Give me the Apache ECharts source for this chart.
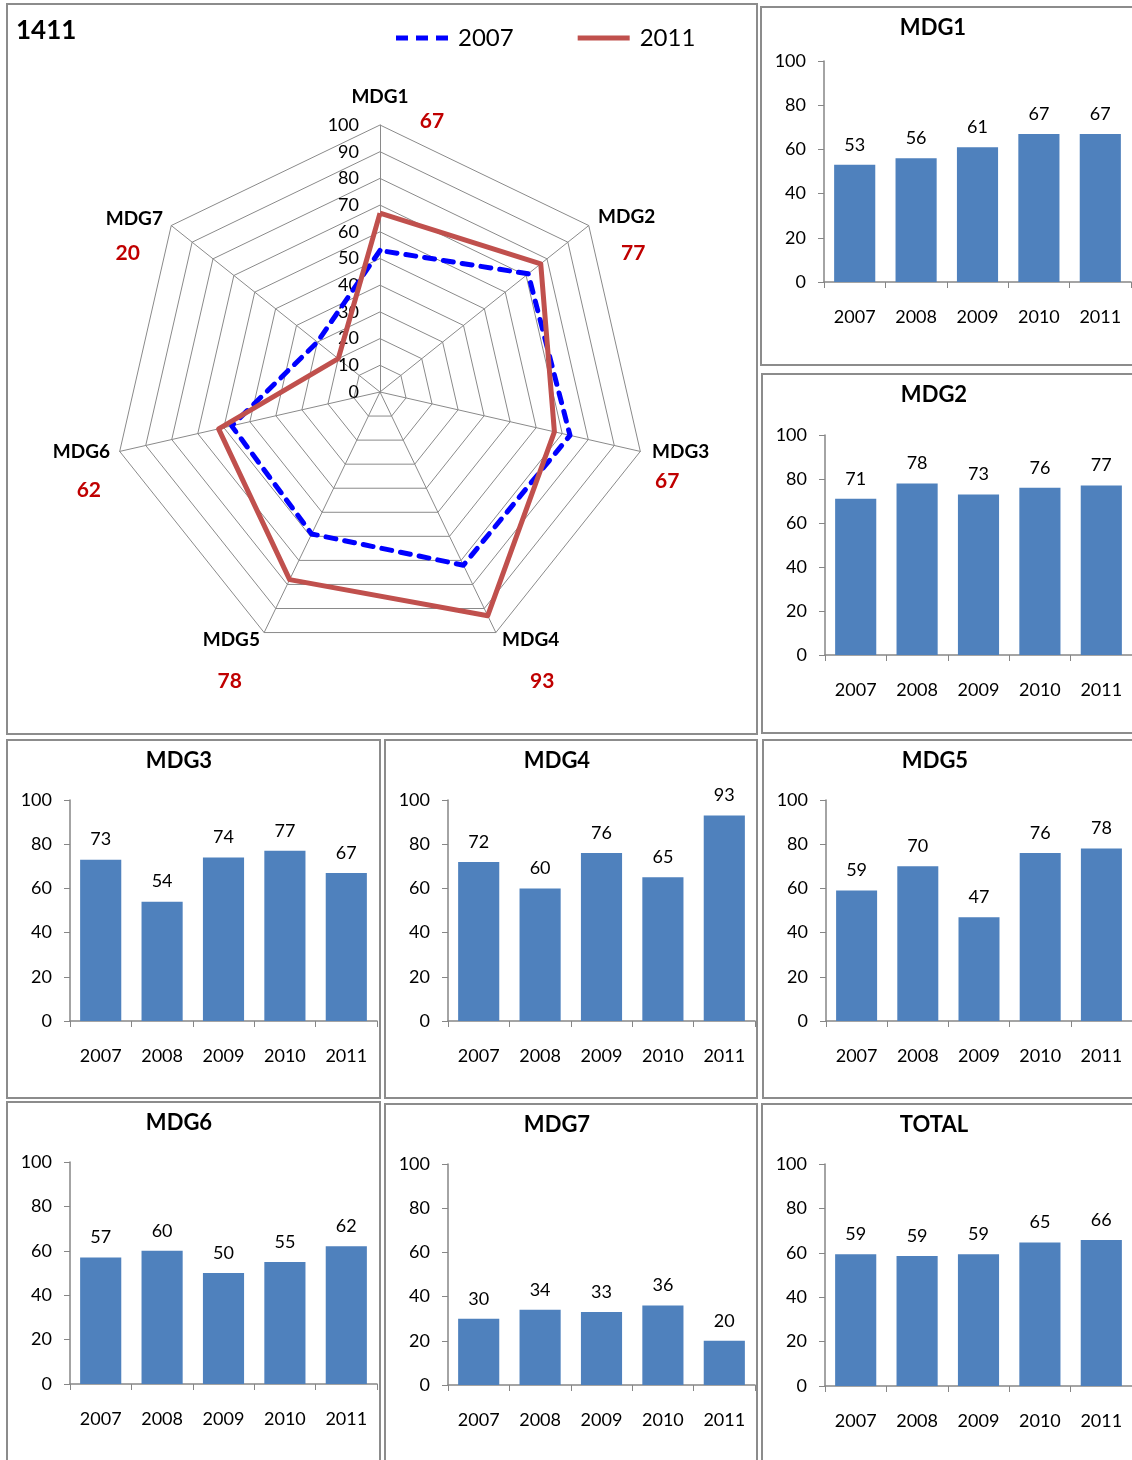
<!DOCTYPE html>
<html>
<head>
<meta charset="utf-8">
<script src="https://cdn.jsdelivr.net/npm/echarts@6/dist/echarts.min.js"></script>
<style>
html,body{margin:0;padding:0;background:#fff;overflow:hidden;}
#c{width:1132px;height:1460px;}
</style>
</head>
<body>
<div id="c"></div>
<script>
// ---------- DATA ----------
const chartTitle = '1411';
const years = ['2007', '2008', '2009', '2010', '2011'];
const mdgNames = ['MDG1', 'MDG2', 'MDG3', 'MDG4', 'MDG5', 'MDG6', 'MDG7'];
const radar2007 = [53, 71, 73, 72, 59, 57, 30];
const radar2011 = [67, 77, 67, 93, 78, 62, 20];
const radarTicks = [0, 10, 20, 30, 40, 50, 60, 70, 80, 90, 100];
const mdg1 = [53, 56, 61, 67, 67];
const mdg2 = [71, 78, 73, 76, 77];
const mdg3 = [73, 54, 74, 77, 67];
const mdg4 = [72, 60, 76, 65, 93];
const mdg5 = [59, 70, 47, 76, 78];
const mdg6 = [57, 60, 50, 55, 62];
const mdg7 = [30, 34, 33, 36, 20];
const total = [59.4, 58.6, 59.4, 64.6, 65.8];
const barTicks = [0, 20, 40, 60, 80, 100];

// ---------- LAYOUT / STYLE ----------
const FONT = 'Lato';
const BAR_COLOR = '#4F81BD';
const AXIS_COLOR = '#868686';
const BORDER = '#8c8c8c';
const panels = [
  {name: 'MDG1', data: mdg1, box: [761, 7, 380, 358], grid: [824, 61, 307, 221]},
  {name: 'MDG2', data: mdg2, box: [762, 374, 380, 359], grid: [825, 435, 307, 220]},
  {name: 'MDG3', data: mdg3, box: [7, 740, 373, 358], grid: [70, 800, 307, 221]},
  {name: 'MDG4', data: mdg4, box: [385, 740, 372, 358], grid: [448, 800, 307, 221]},
  {name: 'MDG5', data: mdg5, box: [763, 740, 380, 358], grid: [826, 800, 307, 221]},
  {name: 'MDG6', data: mdg6, box: [7, 1102, 373, 370], grid: [70, 1162, 307, 222]},
  {name: 'MDG7', data: mdg7, box: [385, 1104, 372, 370], grid: [448, 1164, 307, 221]},
  {name: 'TOTAL', data: total, box: [762, 1104, 380, 370], grid: [825, 1164, 307, 222]}
];
// radar name label fine placement (style only)
const nameStyle = {
  MDG1: {top: true, pl2: 104},
  MDG2: {side: 'left', pt: 26, L: 53, h: 15.6, h2: 38.6},
  MDG3: {side: 'left', pt: 45, L: 41, h: 19.5, h2: 22.5},
  MDG4: {side: 'left', pt: 92, L: 63, h: 9.7, h2: 37.7},
  MDG5: {side: 'right', pt: 92, L: 63, h: 7.7, h2: 25.7},
  MDG6: {side: 'right', pt: 62, L: 57, h: 17.5, h2: 26.5},
  MDG7: {side: 'right', pt: 26, L: 50, h: 14.6, h2: 37.6}
};

const rich = {};
mdgNames.forEach((n, i) => {
  const s = nameStyle[n];
  const nStyle = {fontFamily: FONT, fontSize: 19, fontWeight: 'bold', color: '#000'};
  const vStyle = {fontFamily: FONT, fontSize: 21, fontWeight: 'bold', color: '#C00000'};
  if (s.top) {
    nStyle.lineHeight = 24;
    vStyle.lineHeight = 24;
    vStyle.padding = [0, 0, 0, s.pl2];
  } else if (s.side === 'left') {
    nStyle.padding = [s.pt, 0, 0, s.h];
    vStyle.lineHeight = s.L;
    vStyle.padding = [0, 0, 0, s.h2];
  } else {
    nStyle.padding = [s.pt, s.h, 0, 0];
    vStyle.lineHeight = s.L;
    vStyle.padding = [0, s.h2, 0, 0];
  }
  rich['n' + i] = nStyle;
  rich['v' + i] = vStyle;
});

// ECharts places radar indicators counter-clockwise; reorder to go clockwise
const order = [0, 6, 5, 4, 3, 2, 1];
const indicator = order.map(i => {
  const ind = {name: mdgNames[i], min: radarTicks[0], max: radarTicks[radarTicks.length - 1],
               nameMoveOverlap: false};
  if (i === 0) {
    ind.axisLabel = {show: true, fontFamily: FONT, fontSize: 18, color: '#000', margin: 21};
  }
  return ind;
});

const option = {
  animation: false,
  textStyle: {fontFamily: FONT},
  title: [
    {text: chartTitle, left: 16, top: 18, padding: 0,
     textStyle: {fontFamily: FONT, fontSize: 26, fontWeight: 'bold', color: '#000'}}
  ].concat(panels.map(p => ({
    text: p.name, left: p.box[0] + 172, top: p.box[1] + 10, textAlign: 'center', padding: 0,
    textStyle: {fontFamily: FONT, fontSize: 22, fontWeight: 'bold', color: '#000'}
  }))),
  legend: {
    left: 391, top: 21, itemWidth: 52, itemHeight: 5, itemGap: 64,
    data: [
      {name: '2007', icon: 'path://M0,0h12v5h-12z M20,0h12v5h-12z M40,0h12v5h-12z'},
      {name: '2011', icon: 'path://M0,0h52v5h-52z'}
    ],
    itemStyle: {borderWidth: 0},
    textStyle: {fontFamily: FONT, fontSize: 24, color: '#000', padding: [0, 0, 0, 5]}
  },
  graphic: [{type: 'rect', shape: {x: 7, y: 4, width: 750, height: 730},
             style: {fill: 'none', stroke: BORDER, lineWidth: 2}, silent: true}]
    .concat(panels.map(p => ({
      type: 'rect', shape: {x: p.box[0], y: p.box[1], width: p.box[2], height: p.box[3]},
      style: {fill: 'none', stroke: BORDER, lineWidth: 2}, silent: true
    }))),
  radar: {
    center: [380, 392], radius: 267, startAngle: 90, splitNumber: 10, shape: 'polygon',
    indicator: indicator,
    nameMoveOverlap: false,
    axisNameGap: -8,
    axisName: {
      formatter: function (name) {
        const i = mdgNames.indexOf(name);
        return '{n' + i + '|' + name + '}\n{v' + i + '|' + radar2011[i] + '}';
      },
      rich: rich
    },
    axisLine: {lineStyle: {color: '#8a8a8a', width: 1}},
    splitLine: {lineStyle: {color: '#8a8a8a', width: 1}},
    splitArea: {show: false},
    axisTick: {show: false},
    axisLabel: {show: false}
  },
  grid: panels.map(p => ({left: p.grid[0], top: p.grid[1], width: p.grid[2], height: p.grid[3]})),
  xAxis: panels.map((p, i) => ({
    type: 'category', gridIndex: i, data: years,
    axisLine: {lineStyle: {color: AXIS_COLOR, width: 1.5}},
    axisTick: {show: true, length: 6, lineStyle: {color: AXIS_COLOR}},
    axisLabel: {fontFamily: FONT, fontSize: 18, color: '#000', margin: 26}
  })),
  yAxis: panels.map((p, i) => ({
    type: 'value', gridIndex: i, min: barTicks[0], max: barTicks[barTicks.length - 1], interval: 20,
    axisLine: {show: true, lineStyle: {color: AXIS_COLOR, width: 1.5}},
    axisTick: {show: true, length: 6, lineStyle: {color: AXIS_COLOR}},
    splitLine: {show: false},
    axisLabel: {fontFamily: FONT, fontSize: 18, color: '#000', margin: 18}
  })),
  series: [
    {
      type: 'radar', name: '2007',
      symbol: 'none',
      itemStyle: {color: '#0000FF'},
      lineStyle: {color: '#0000FF', width: 5, type: [10, 9], cap: 'round'},
      data: [{name: '2007', value: order.map(i => radar2007[i])}]
    },
    {
      type: 'radar', name: '2011',
      symbol: 'none',
      itemStyle: {color: '#C0504D'},
      lineStyle: {color: '#C0504D', width: 5, type: 'solid'},
      data: [{name: '2011', value: order.map(i => radar2011[i])}]
    }
  ].concat(panels.map((p, i) => ({
    type: 'bar', xAxisIndex: i, yAxisIndex: i, data: p.data,
    barWidth: '67%',
    itemStyle: {color: BAR_COLOR},
    label: {show: true, position: 'top', distance: 11, fontFamily: FONT, fontSize: 18, color: '#000',
            formatter: (d) => Math.round(d.value)}
  })))
};

const chart = echarts.init(document.getElementById('c'), null, {renderer: 'canvas'});
chart.setOption(option);
</script>
</body>
</html>
